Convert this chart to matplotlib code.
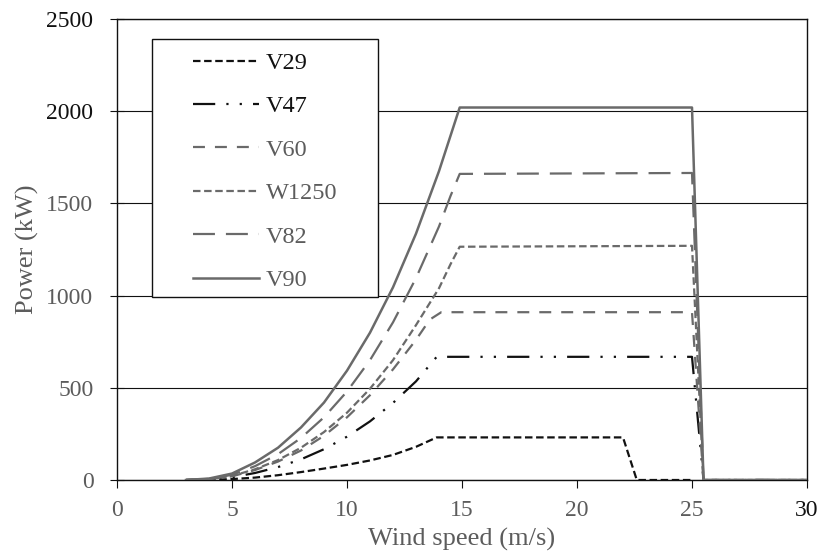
import matplotlib
matplotlib.use("Agg")
import matplotlib.pyplot as plt
from matplotlib.patches import Rectangle

# ---- data ----
v29_speed = [3, 4, 5, 6, 7, 8, 9, 10, 11, 12, 13, 13.9, 22, 22.6, 25]
v29_power = [0, 0, 5, 13, 26, 43, 62, 82, 106, 136, 180, 231, 231, 0, 0]

v47_speed = [3, 4, 5, 6, 7, 8, 9, 10, 11, 12, 13, 13.9, 25, 25.5, 30]
v47_power = [0, 3, 15, 38, 70, 112, 167, 235, 318, 418, 535, 668, 668, 0, 0]

v60_speed = [3, 4, 5, 6, 7, 8, 9, 10, 11, 12, 13, 13.6, 14.1, 25, 25.5, 30]
v60_power = [0, 5, 20, 54, 100, 160, 240, 340, 460, 600, 760, 870, 910, 910, 0, 0]

w1250_speed = [3, 4, 5, 6, 7, 8, 9, 10, 11, 12, 13, 14, 14.5, 14.9, 25, 25.5, 30]
w1250_power = [0, 5, 22, 58, 108, 175, 260, 365, 495, 650, 840, 1040, 1170, 1265, 1270, 0, 0]

v82_speed = [3, 4, 5, 6, 7, 8, 9, 10, 11, 12, 13, 14, 14.5, 14.9, 25, 25.5, 30]
v82_power = [0, 6, 28, 75, 140, 228, 340, 480, 650, 855, 1095, 1375, 1540, 1660, 1665, 0, 0]

v90_speed = [3, 4, 5, 6, 7, 8, 9, 10, 11, 12, 13, 14, 14.9, 25, 25.5, 30]
v90_power = [0, 8, 35, 95, 175, 285, 420, 593, 799, 1045, 1336, 1675, 2020, 2020, 0, 0]

series_labels = ["V29", "V47", "V60", "W1250", "V82", "V90"]
x_ticks = [0, 5, 10, 15, 20, 25, 30]
y_ticks = [0, 500, 1000, 1500, 2000, 2500]
x_label = "Wind speed (m/s)"
y_label = "Power (kW)"

# ---- style ----
plt.rcParams['font.family'] = ['Liberation Serif', 'DejaVu Serif']
plt.rcParams['lines.scale_dashes'] = False
BLACK = "#111111"
GRAY = "#6a6a6a"
TGRAY = "#5c5c5c"

fig = plt.figure(figsize=(8.24, 5.56), dpi=100)
ax = fig.add_axes([117/824, 76/556, 690/824, 461/556])

styles = [
    dict(color=BLACK, lw=1.6, dashes=(5.4, 2.6)),
    dict(color=BLACK, lw=1.6, dashes=(16, 8, 1.6, 8, 1.6, 8)),
    dict(color=GRAY, lw=1.6, dashes=(8.6, 7.2)),
    dict(color=GRAY, lw=1.6, dashes=(5.4, 2.6)),
    dict(color=GRAY, lw=1.6, dashes=(15.8, 7.9)),
    dict(color=GRAY, lw=1.8, linestyle='-'),
]
datasets = [(v29_speed, v29_power), (v47_speed, v47_power), (v60_speed, v60_power),
            (w1250_speed, w1250_power), (v82_speed, v82_power), (v90_speed, v90_power)]
handles = []
for (xs, ys), lab, st in zip(datasets, series_labels, styles):
    h, = ax.plot(xs, ys, label=lab, zorder=3, **st)
    handles.append(h)

ax.set_xlim(0, 30)
ax.set_ylim(0, 2500)
ax.set_xticks(x_ticks)
ax.set_yticks(y_ticks)
ax.set_xticklabels([str(t) for t in x_ticks])
ax.set_yticklabels([str(t) for t in y_ticks])
ax.grid(axis='y', color=BLACK, lw=0.8, zorder=1)
ax.set_axisbelow(True)
for s in ax.spines.values():
    s.set_color(BLACK)
    s.set_linewidth(1.0)

ax.tick_params(axis='y', direction='inout', length=10, width=0.8, pad=12,
               labelsize=17, colors=BLACK)
ax.tick_params(axis='x', direction='out', length=6, width=0.8, pad=8.5,
               labelsize=17, colors=BLACK)
for t in ax.get_yticklabels():
    t.set_color(BLACK if t.get_text() in ("2500", "2000") else TGRAY)
for t in ax.get_xticklabels():
    t.set_color(BLACK if t.get_text() == "30" else TGRAY)

ax.set_xlabel(x_label, fontsize=19, color=TGRAY, labelpad=5)
ax.set_ylabel(y_label, fontsize=19, color=TGRAY, labelpad=5)

# legend box
box = Rectangle((152/824, (556-297)/556), 226/824, 258/556, transform=fig.transFigure,
                facecolor='white', edgecolor=BLACK, lw=1.0, zorder=4.5, clip_on=False)
ax.add_patch(box)
leg = ax.legend(handles=handles, loc='upper left', bbox_to_anchor=(193/824, (556-52)/556),
                bbox_transform=fig.transFigure, frameon=False, fontsize=17.5,
                handlelength=2.7, handletextpad=0.3, labelspacing=0.88, borderpad=0,
                borderaxespad=0)
leg.set_zorder(5)
for txt in leg.get_texts():
    txt.set_color(BLACK if txt.get_text() in ("V29", "V47") else TGRAY)

fig.savefig("out.png", dpi=100)
